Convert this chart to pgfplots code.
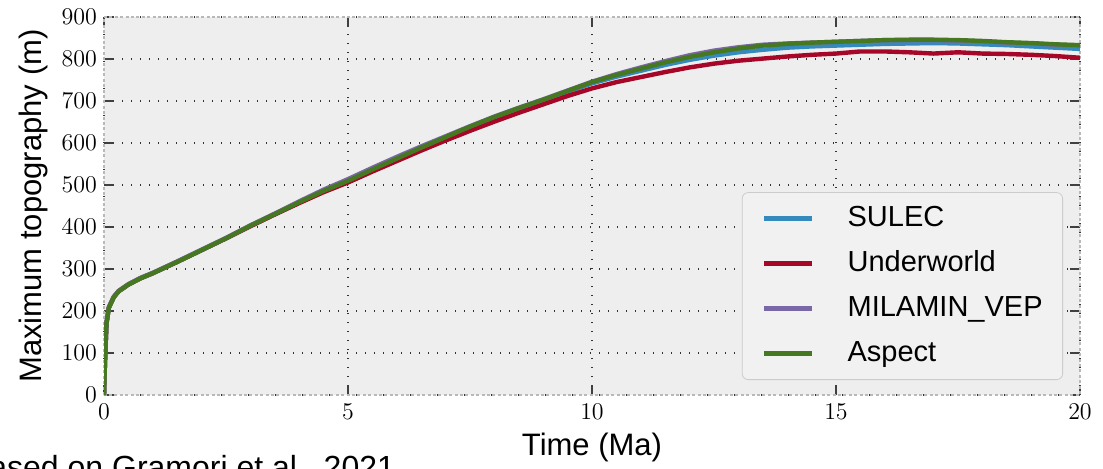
\documentclass[border=0pt]{standalone}
\usepackage{pgfplots}
\pgfplotsset{compat=1.18}
\usepackage{fontspec}
\setmainfont{Liberation Sans}
\definecolor{cblue}{HTML}{348ABD}
\definecolor{cred}{HTML}{A60628}
\definecolor{cpurple}{HTML}{7A68A6}
\definecolor{cgreen}{HTML}{467821}
\definecolor{bg}{HTML}{EEEEEE}
\begin{document}
\begin{tikzpicture}
\useasboundingbox (0,0) rectangle (551.5pt,234pt);
\clip (0,0) rectangle (551.5pt,234pt);
\begin{axis}[
  at={(52pt,36.5pt)}, anchor=south west,
  scale only axis, width=488pt, height=189pt,
  xmin=0, xmax=20, ymin=0, ymax=900,
  xtick={0,5,10,15,20}, ytick={0,100,...,900},
  axis background/.style={fill=bg},
  axis line style={draw=gray!55, line width=0.7pt, dash pattern=on 1.5pt off 1.2pt},
  grid=major,
  major grid style={draw=black!80, line width=0.7pt, dash pattern=on 0.7pt off 3.8pt},
  tick pos=both, tick align=inside,
  major tick length=5pt,
  every tick/.style={black!75, line width=0.8pt},
  xticklabel style={font=\fontsize{12}{12}\selectfont, yshift=-1pt},
  yticklabel style={font=\fontsize{13}{13}\selectfont},
  xlabel={Time (Ma)},
  ylabel={Maximum topography (m)},
  label style={font=\fontsize{15.5}{17}\selectfont},
  xlabel style={at={(axis description cs:0.5,0)}, anchor=base, yshift=-30pt},
  ylabel style={at={(axis description cs:0,0.5)}, anchor=base, yshift=31pt},
  every axis plot/.append style={line width=2.2pt, line join=round},
  legend style={at={(0.9826,0.0397)}, anchor=south east,
    fill=bg!80!white, draw=gray!40, rounded corners=3pt,
    font=\fontsize{14.5}{16}\selectfont,
    inner xsep=10pt, inner ysep=6pt, row sep=8.5pt, column sep=16.5pt,
    nodes={inner sep=0pt, text height=11pt, text depth=3pt}},
  legend cell align=left,
  legend image code/.code={\draw[#1] (0pt,0pt) -- (24pt,0pt);},
]
\addplot[cblue] coordinates {
(0,0) (0.02,80) (0.05,170) (0.1,208) (0.2,233) (0.3,247) (0.5,263) (0.75,278) (1,290) (1.5,317) (2,345) (2.5,373) (3,402) (3.5,430) (4,458) (4.5,485) (5,509) (5.5,536) (6,562) (6.5,588) (7,613) (7.5,638) (8,661) (8.5,682) (9,702) (9.5,722) (10,742) (10.5,758) (11,772) (11.5,786) (12,798) (12.5,808) (13,816) (13.5,822) (14,827) (14.5,830) (15,832) (15.5,834) (16,836) (16.5,837) (17,838) (17.5,837) (18,835) (18.5,833) (19,830) (19.5,827) (20,824)
};
\addlegendentry{SULEC}
\addplot[cred] coordinates {
(0,0) (0.02,80) (0.05,170) (0.1,208) (0.2,233) (0.3,247) (0.5,263) (0.75,278) (1,290) (1.5,317) (2,345) (2.5,373) (3,402) (3.5,430) (4,457) (4.5,483) (5,506) (5.5,532) (6,557) (6.5,582) (7,606) (7.5,629) (8,651) (8.5,672) (9,692) (9.5,712) (10,730) (10.5,745) (11,757) (11.5,769) (12,780) (12.5,789) (13,796) (13.5,801) (14,806) (14.5,810) (15,813) (15.5,818) (16,818) (16.5,816) (17,813) (17.5,816) (18,813) (18.5,812) (19,810) (19.5,807) (20,803)
};
\addlegendentry{Underworld}
\addplot[cpurple] coordinates {
(0,0) (0.02,80) (0.05,170) (0.1,209) (0.2,234) (0.3,248) (0.5,264) (0.75,279) (1,291) (1.5,318) (2,346) (2.5,374) (3,404) (3.5,432) (4,461) (4.5,489) (5,514) (5.5,541) (6,567) (6.5,592) (7,616) (7.5,640) (8,663) (8.5,684) (9,704) (9.5,725) (10,746) (10.5,764) (11,780) (11.5,795) (12,809) (12.5,820) (13,828) (13.5,834) (14,837) (14.5,839) (15,841) (15.5,843) (16,845) (16.5,845) (17,845) (17.5,844) (18,842) (18.5,839) (19,837) (19.5,834) (20,832)
};
\addlegendentry{MILAMIN\_VEP}
\addplot[cgreen] coordinates {
(0,0) (0.02,80) (0.05,170) (0.1,208) (0.2,233) (0.3,247) (0.5,263) (0.75,278) (1,290) (1.5,317) (2,345) (2.5,373) (3,403) (3.5,431) (4,459) (4.5,486) (5,510) (5.5,537) (6,563) (6.5,589) (7,614) (7.5,639) (8,662) (8.5,683) (9,703) (9.5,724) (10,745) (10.5,762) (11,777) (11.5,792) (12,805) (12.5,816) (13,825) (13.5,832) (14,836) (14.5,839) (15,841) (15.5,843) (16,845) (16.5,846) (17,846) (17.5,845) (18,843) (18.5,840) (19,838) (19.5,835) (20,833)
};
\addlegendentry{Aspect}
\end{axis}
\node[anchor=base west, font=\fontsize{16}{18}\selectfont] at (-19.5pt,-5pt) {Based on Gramori et al., 2021};
\end{tikzpicture}
\end{document}
